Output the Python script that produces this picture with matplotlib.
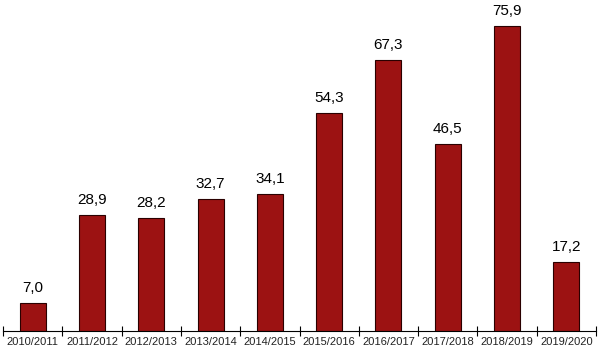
import matplotlib.pyplot as plt
import numpy as np

# dados
seasons = ['2010/2011', '2011/2012', '2012/2013', '2013/2014', '2014/2015',
           '2015/2016', '2016/2017', '2017/2018', '2018/2019', '2019/2020']
values = [7.0, 28.9, 28.2, 32.7, 34.1, 54.3, 67.3, 46.5, 75.9, 17.2]

plt.rcParams['font.family'] = ['Liberation Sans', 'DejaVu Sans']

fig = plt.figure(figsize=(5.99, 3.52), dpi=100)
ax = fig.add_axes([3 / 599, 21 / 352, 593 / 599, 331 / 352])

x = np.arange(len(values))
ax.bar(x, values, width=0.44, color='#9c1212', edgecolor='#2a0000', linewidth=0.8)

for xi, v in zip(x, values):
    ax.text(xi, v + 2.0, f'{v:.1f}'.replace('.', ','), ha='center', va='bottom',
            fontsize=11, color='black')

ax.set_xlim(-0.5, len(values) - 0.5)
ax.set_ylim(0, 82.3)

# ticks nos limites, rótulos no centro
ax.set_xticks(np.arange(-0.5, len(values)), minor=False)
ax.set_xticklabels([])
ax.set_xticks(x, minor=True)
ax.set_xticklabels(seasons, minor=True, fontsize=8, color='#222222')
ax.tick_params(axis='x', which='major', direction='inout', length=7, width=0.8)
ax.tick_params(axis='x', which='minor', length=0, pad=4)

ax.set_yticks([])
for s in ['top', 'right', 'left']:
    ax.spines[s].set_visible(False)
ax.spines['bottom'].set_linewidth(0.8)

fig.savefig('out.png', dpi=100)
